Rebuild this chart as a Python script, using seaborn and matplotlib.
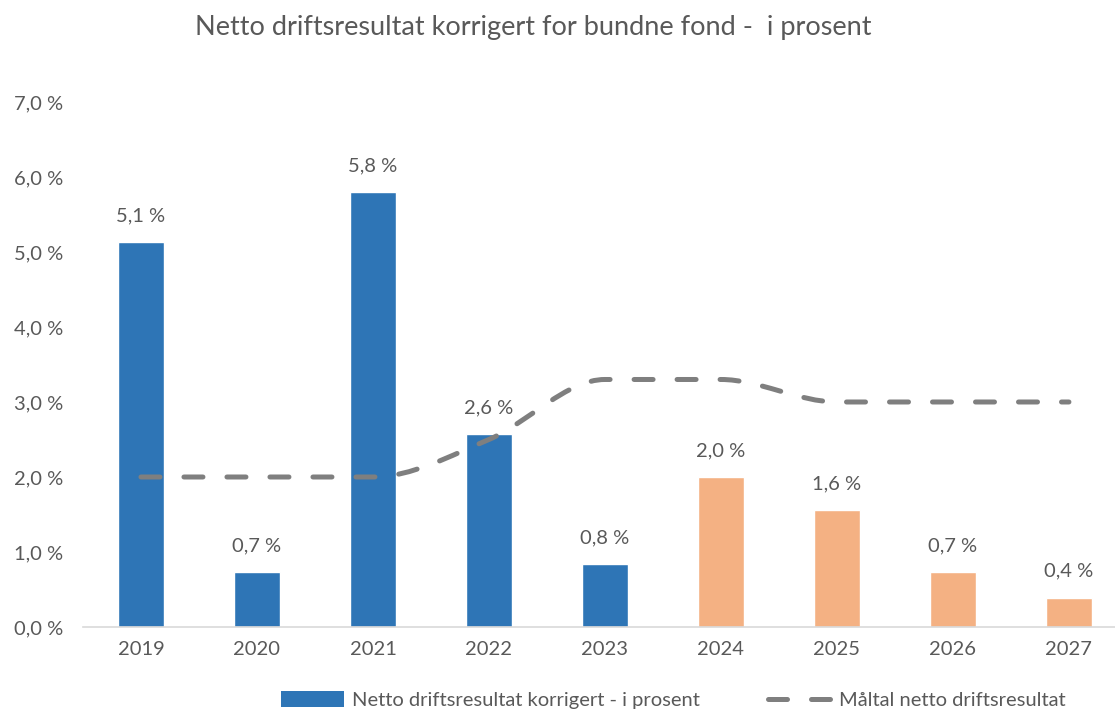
import matplotlib
matplotlib.use("Agg")
import matplotlib.pyplot as plt
import seaborn as sns
import pandas as pd
from matplotlib.path import Path
from matplotlib.patches import PathPatch, Patch
from matplotlib.lines import Line2D

# data
years = ["2019", "2020", "2021", "2022", "2023", "2024", "2025", "2026", "2027"]
netto = [5.13, 0.73, 5.80, 2.57, 0.84, 2.00, 1.56, 0.73, 0.39]
kind = ["faktisk"] * 5 + ["plan"] * 4
maltal = [2.0, 2.0, 2.0, 2.5, 3.3, 3.3, 3.0, 3.0, 3.0]

BLUE = "#2E75B6"
ORANGE = "#F4B183"
GREY = "#7F7F7F"
TXT = "#595959"
FS = 14.5

sns.set_theme(style="white")
plt.rcParams["font.family"] = ["Lato", "DejaVu Sans"]

df = pd.DataFrame({"year": years, "value": netto, "kind": kind})

fig = plt.figure(figsize=(11.15, 7.13), dpi=100)
ax = fig.add_axes([0.0744, 0.1206, 0.9363, 0.7364])

sns.barplot(data=df, x="year", y="value", hue="kind", dodge=False,
            palette={"faktisk": BLUE, "plan": ORANGE}, width=0.4,
            saturation=1, legend=False, ax=ax)

# value labels, Norwegian decimal comma
for cont in ax.containers:
    labs = []
    for bar in cont:
        h = bar.get_height()
        labs.append(f"{h:.1f} %".replace(".", ",") if h == h else "")
    ax.bar_label(cont, labels=labs, padding=13, fontsize=FS, color=TXT)

# smoothed target line: monotone cubic bezier through the points
xs = list(range(len(maltal)))
n = len(maltal)
sec = [maltal[i + 1] - maltal[i] for i in range(n - 1)]
tang = []
for i in range(n):
    if i == 0:
        m = sec[0]
    elif i == n - 1:
        m = sec[-1]
    elif sec[i - 1] * sec[i] <= 0:
        m = 0.0
    else:
        m = (sec[i - 1] + sec[i]) / 2
    tang.append(m)
verts = [(xs[0], maltal[0])]
codes = [Path.MOVETO]
for i in range(n - 1):
    verts += [(xs[i] + 1 / 3, maltal[i] + tang[i] / 3),
              (xs[i + 1] - 1 / 3, maltal[i + 1] - tang[i + 1] / 3),
              (xs[i + 1], maltal[i + 1])]
    codes += [Path.CURVE4] * 3
line = PathPatch(Path(verts, codes), fill=False, edgecolor=GREY, linewidth=3.6,
                 linestyle=(0, (3.8, 4.8)), capstyle="round", zorder=3)
ax.add_patch(line)

ax.set_ylim(0, 7)
ax.set_xlim(-0.5, 8.5)
ax.set_yticks([0, 1, 2, 3, 4, 5, 6, 7])
ax.set_yticklabels([f"{v:.1f} %".replace(".", ",") for v in range(8)])
ax.set_xlabel("")
ax.set_ylabel("")
ax.tick_params(axis="both", length=0, labelsize=FS, labelcolor=TXT)
ax.tick_params(axis="x", pad=10)
ax.tick_params(axis="y", pad=14)
for s in ["top", "right", "left"]:
    ax.spines[s].set_visible(False)
ax.spines["bottom"].set_color("#D9D9D9")
ax.spines["bottom"].set_linewidth(1.2)
ax.grid(False)

fig.text(0.478, 0.962, "Netto driftsresultat korrigert for bundne fond -  i prosent",
         ha="center", va="center", fontsize=19.5, color=TXT)

handles = [Patch(facecolor=BLUE, edgecolor="none"),
           Line2D([0], [0], color=GREY, linewidth=3.6, linestyle=(0, (3.8, 4.8)),
                  dash_capstyle="round")]
fig.legend(handles, ["Netto driftsresultat korrigert - i prosent", "Måltal netto driftsresultat"],
           loc="center", bbox_to_anchor=(0.604, 0.018), ncol=2, frameon=False,
           fontsize=FS, labelcolor=TXT, handlelength=3.1, handleheight=0.8,
           columnspacing=3.4, handletextpad=0.4)

fig.savefig("out.png", dpi=100)
